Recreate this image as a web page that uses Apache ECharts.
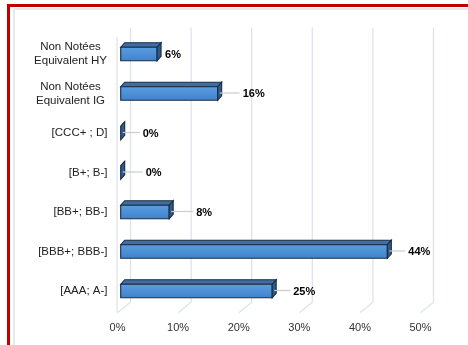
<!DOCTYPE html>
<html>
<head>
<meta charset="utf-8">
<script src="https://cdn.jsdelivr.net/npm/echarts@6/dist/echarts.min.js"></script>
<style>
  html, body { margin: 0; padding: 0; background: #ffffff; }
  #chart { width: 468px; height: 345px; }
</style>
</head>
<body>
<div id="chart"></div>
<script>
// Rating buckets, listed top to bottom
const categories = [
  'Non Notées\nEquivalent HY',
  'Non Notées\nEquivalent IG',
  '[CCC+ ; D]',
  '[B+; B-]',
  '[BB+; BB-]',
  '[BBB+; BBB-]',
  '[AAA; A-]'
];
// Share of the portfolio, in percent
const shares = [6, 16, 0, 0, 8, 44, 25];
// Value axis ticks, in percent
const tickValues = [0, 10, 20, 30, 40, 50];

// Horizontal distance between bar end and its value label (px)
const labelGap = [8, 25, 22, 25, 27, 21, 21];

const FONT = 'Liberation Sans';
const BAR_H = 13.5;        // front face height
const BAR_DX = 4, BAR_DY = -4.5;   // bar depth
const BAR_SHIFT = 3.2;     // bar plane offset from front plane
const WALL_DX = 13, WALL_DY = -10.5; // back wall offset from front plane

const chart = echarts.init(document.getElementById('chart'), null, { renderer: 'canvas' });

function renderGrid(params, api) {
  const v = api.value(0);
  const cs = params.coordSys;
  const xf = api.coord([v, 0])[0];
  const yFloor = cs.y + cs.height + 2;
  const xb = xf + WALL_DX;
  const yBackBottom = yFloor + WALL_DY;
  const yTop = 27.5;
  const children = [{
    type: 'polyline',
    shape: { points: [[xb, yTop], [xb, yBackBottom], [xf, yFloor]] },
    style: { stroke: '#dfe3ea', lineWidth: 1.3, fill: null }
  }];
  if (v === 0) {
    children.push({
      type: 'line',
      shape: { x1: xf - 0.5, y1: yTop + 9.5, x2: xf - 0.5, y2: yFloor },
      style: { stroke: '#dfe3ea', lineWidth: 1.3 }
    });
  }
  return { type: 'group', children };
}

function renderBar(params, api) {
  const val = api.value(0);
  const idx = api.value(1);
  const c0 = api.coord([0, idx]);
  const c1 = api.coord([val, idx]);
  const x0 = c0[0] + BAR_SHIFT;
  const x1 = c1[0] + BAR_SHIFT;
  const yc = c0[1];
  const top = yc - BAR_H / 2;
  const bottom = yc + BAR_H / 2;
  const stroke = '#1b2c40';
  const children = [];
  // top face
  children.push({
    type: 'polygon',
    shape: { points: [[x0, top], [x0 + BAR_DX, top + BAR_DY], [x1 + BAR_DX, top + BAR_DY], [x1, top]] },
    style: { fill: '#3f6ea6', stroke: stroke, lineWidth: 1.1 }
  });
  // front face
  if (x1 - x0 > 0.01) {
    children.push({
      type: 'rect',
      shape: { x: x0, y: top, width: x1 - x0, height: BAR_H },
      style: {
        fill: new echarts.graphic.LinearGradient(0, 0, 0, 1, [
          { offset: 0, color: '#5c9ee0' },
          { offset: 1, color: '#3f82cc' }
        ]),
        stroke: stroke, lineWidth: 1.1
      }
    });
  }
  // side face
  children.push({
    type: 'polygon',
    shape: { points: [[x1, top], [x1 + BAR_DX, top + BAR_DY], [x1 + BAR_DX, bottom + BAR_DY], [x1, bottom]] },
    style: { fill: '#2d5a8c', stroke: stroke, lineWidth: 1.1 }
  });
  // value label with leader line
  const gap = labelGap[params.dataIndex];
  const lx = x1 + gap;
  const ly = yc + 0.5;
  if (gap > 12) {
    children.push({
      type: 'line',
      shape: { x1: x1 + BAR_DX / 2, y1: ly - 1, x2: lx - 3, y2: ly - 1 },
      style: { stroke: '#c9ccd2', lineWidth: 1.2 }
    });
  }
  children.push({
    type: 'text',
    style: {
      x: lx, y: ly, text: val + '%',
      fill: '#000000', font: 'bold 11px "' + FONT + '"',
      align: 'left', verticalAlign: 'middle'
    }
  });
  return { type: 'group', children };
}

const option = {
  animation: false,
  backgroundColor: '#ffffff',
  textStyle: { fontFamily: FONT },
  graphic: [
    { type: 'line', shape: { x1: 14, y1: 9, x2: 468, y2: 9 }, style: { stroke: '#dde2ea', lineWidth: 1.5 }, z: 0 },
    { type: 'line', shape: { x1: 14, y1: 9, x2: 14, y2: 345 }, style: { stroke: '#dde2ea', lineWidth: 1.5 }, z: 0 },
    { type: 'rect', shape: { x: 7, y: 4, width: 461, height: 3 }, style: { fill: '#c00000' }, z: 10 },
    { type: 'rect', shape: { x: 7, y: 4, width: 3, height: 341 }, style: { fill: '#c00000' }, z: 10 }
  ],
  grid: { left: 117.5, width: 303, top: 34.25, height: 276.5, containLabel: false },
  xAxis: {
    type: 'value', min: 0, max: 50, interval: 10,
    axisLine: { show: false }, axisTick: { show: false }, splitLine: { show: false },
    axisLabel: {
      formatter: '{value}%', margin: 12, fontSize: 11, color: '#333333', fontFamily: FONT
    }
  },
  yAxis: {
    type: 'category', inverse: true, data: categories,
    axisLine: { show: false }, axisTick: { show: false }, splitLine: { show: false },
    axisLabel: {
      margin: 10, fontSize: 11.5, color: '#222222', fontFamily: FONT, lineHeight: 14,
      formatter: function (s) {
        if (s.indexOf('\n') < 0) return s;
        return s.split('\n').map(function (p) { return '{c|' + p + '}'; }).join('\n');
      },
      rich: { c: { width: 74, align: 'center', fontSize: 11.5, lineHeight: 14, color: '#222222', fontFamily: FONT } }
    }
  },
  series: [
    {
      type: 'custom', name: 'grid', z: 1, silent: true,
      renderItem: renderGrid,
      data: tickValues.map(function (v) { return [v, 0]; }),
      clip: false
    },
    {
      type: 'custom', name: 'bars', z: 5,
      renderItem: renderBar,
      encode: { x: 0, y: 1 },
      data: shares.map(function (v, i) { return [v, i]; }),
      clip: false
    }
  ]
};

chart.setOption(option);
</script>
</body>
</html>
